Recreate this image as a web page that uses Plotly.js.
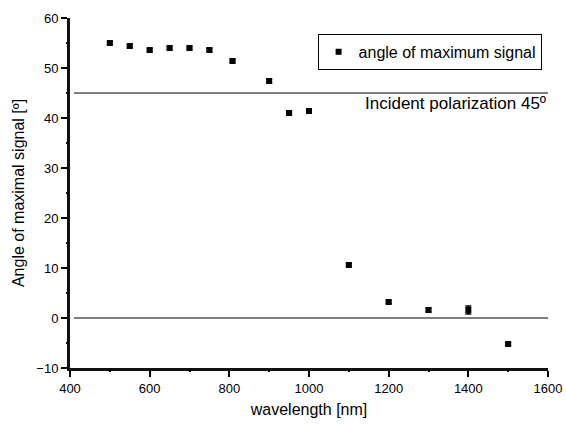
<!DOCTYPE html>
<html>
<head>
<meta charset="utf-8">
<script src="https://cdn.plot.ly/plotly-3.0.1.min.js"></script>
<style>html,body{margin:0;padding:0;background:#fff;}#chart{width:566px;height:424px;}</style>
</head>
<body>
<div id="chart"></div>
<script>
const wavelength = [500, 550, 600, 650, 700, 750, 808, 900, 950, 1000, 1100, 1200, 1300, 1400, 1500];
const angle = [55.0, 54.4, 53.6, 54.0, 54.0, 53.6, 51.4, 47.4, 41.0, 41.4, 10.6, 3.2, 1.6, 1.6, -5.2];
const angleErr = [0.3, 0.3, 0.3, 0.3, 0.3, 0.3, 0.3, 0.4, 0.3, 0.3, 0.3, 0.3, 0.4, 0.8, 0.3];
const xMajorTicks = [400, 600, 800, 1000, 1200, 1400, 1600];
const xMinorTicks = [500, 700, 900, 1100, 1300, 1500];
const yMajorTicks = [-10, 0, 10, 20, 30, 40, 50, 60];
const yMinorTicks = [-5, 5, 15, 25, 35, 45, 55];
const refLines = [45, 0];
const refLabel = "Incident polarization 45º";
const seriesName = "angle of maximum signal";

const font = "Liberation Sans, Arial, sans-serif";

const trace = {
  x: wavelength, y: angle, type: 'scatter', mode: 'markers', name: seriesName,
  marker: {symbol: 'square', size: 6, color: '#000'},
  error_y: {type: 'data', array: angleErr, visible: true, color: '#000', thickness: 1.5, width: 3}
};
// carrier trace for the minor-tick overlay axes (invisible)
const minorCarrier = {
  x: wavelength, y: angle, type: 'scatter', mode: 'markers', xaxis: 'x2', yaxis: 'y2',
  marker: {opacity: 0}, showlegend: false, hoverinfo: 'skip'
};

const shapes = refLines.map(v => ({
  type: 'line', xref: 'x', x0: 410, x1: 1600, yref: 'y', y0: v, y1: v,
  line: {color: '#000', width: 1}, layer: 'below'
}));

const layout = {
  width: 566, height: 424,
  margin: {l: 70, r: 18, t: 18, b: 56},
  paper_bgcolor: '#fff', plot_bgcolor: '#fff',
  font: {family: font, color: '#000', size: 13},
  showlegend: true,
  legend: {x: 0.518, y: 0.955, xanchor: 'left', yanchor: 'top', bordercolor: '#000', borderwidth: 1,
           font: {size: 16, family: font}, bgcolor: 'rgba(0,0,0,0)', tracegroupgap: 0},
  xaxis: {
    range: [400, 1600], tickvals: xMajorTicks,
    ticks: 'outside', ticklen: 6, tickwidth: 2, tickcolor: '#000',
    showline: true, linecolor: '#111', linewidth: 3, showgrid: false, zeroline: false,
    title: {text: 'wavelength [nm]', font: {size: 16, family: font}, standoff: 10},
    tickfont: {size: 13}
  },
  yaxis: {
    range: [-10, 60], tickvals: yMajorTicks,
    ticks: 'outside', ticklen: 6, tickwidth: 2, tickcolor: '#000',
    showline: true, linecolor: '#111', linewidth: 3, showgrid: false, zeroline: false,
    title: {text: 'Angle of maximal signal [º]', font: {size: 16, family: font}, standoff: 8},
    tickfont: {size: 13}
  },
  xaxis2: {
    overlaying: 'x', anchor: 'y2', side: 'bottom', range: [400, 1600], tickvals: xMinorTicks,
    ticks: 'outside', ticklen: 3, tickwidth: 2, tickcolor: '#000',
    showticklabels: false, showline: false, showgrid: false, zeroline: false
  },
  yaxis2: {
    overlaying: 'y', anchor: 'x2', side: 'left', range: [-10, 60], tickvals: yMinorTicks,
    ticks: 'outside', ticklen: 3, tickwidth: 2, tickcolor: '#000',
    showticklabels: false, showline: false, showgrid: false, zeroline: false
  },
  shapes: shapes,
  annotations: [{
    x: 1600, y: refLines[0], xref: 'x', yref: 'y', xanchor: 'right', yanchor: 'top',
    text: refLabel, showarrow: false, font: {size: 17, family: font}, yshift: 1
  }]
};

Plotly.newPlot('chart', [trace, minorCarrier], layout, {displayModeBar: false, staticPlot: true});
</script>
</body>
</html>
